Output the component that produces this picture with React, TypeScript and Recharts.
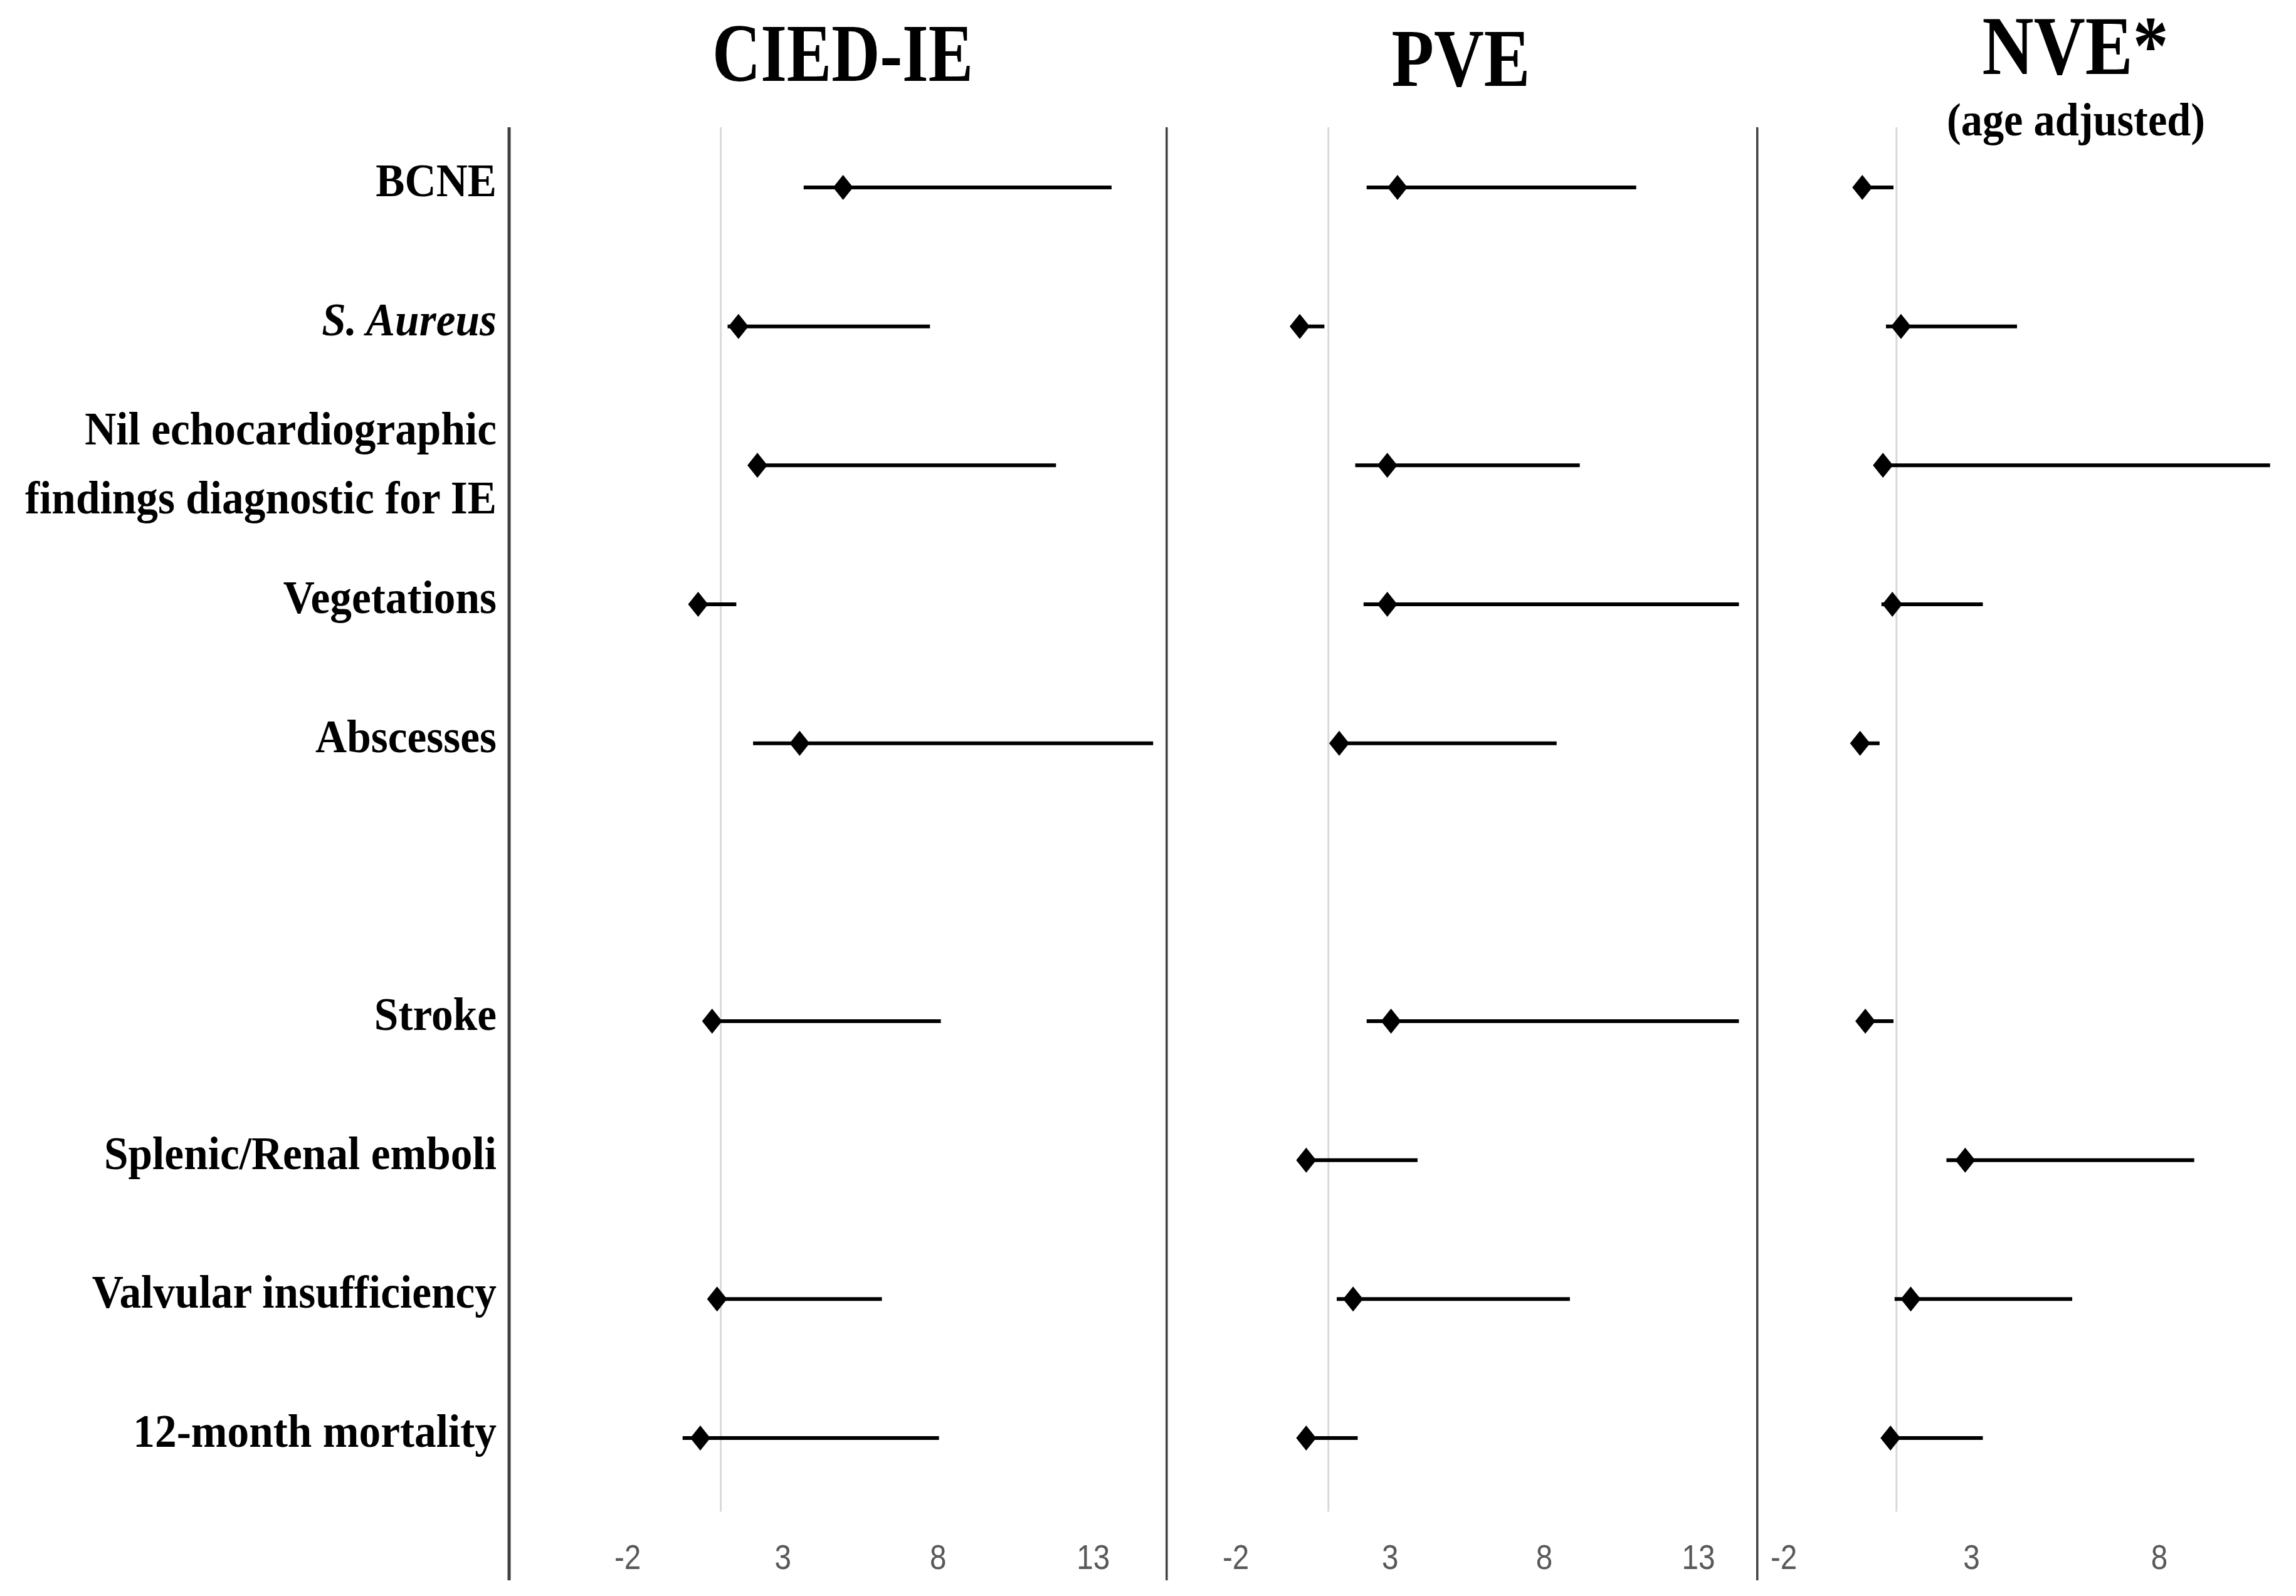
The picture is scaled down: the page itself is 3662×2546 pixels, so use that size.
import React from "react";
import { ScatterChart, Scatter, XAxis, YAxis, ErrorBar, ReferenceLine } from "recharts";

const W = 3662;
const H = 2546;

// rows of the forest plot (index 5 is an empty spacer row)
const categories = [
  "BCNE",
  "S. Aureus",
  "Nil echocardiographic\nfindings diagnostic for IE",
  "Vegetations",
  "Abscesses",
  "",
  "Stroke",
  "Splenic/Renal emboli",
  "Valvular insufficiency",
  "12-month mortality",
];
const labelRows = [0, 1, 2, 3, 4, 6, 7, 8, 9];

// CIED-IE
const ciedPoint = [4.94, 1.57, 2.18, 0.27, 3.54, null, 0.72, null, 0.88, 0.34];
const ciedLow = [3.67, 1.22, 2.0, 0.15, 2.04, null, 0.6, null, 0.69, -0.23];
const ciedHigh = [13.59, 7.74, 11.8, 1.5, 14.93, null, 8.09, null, 6.19, 8.03];

// PVE
const pvePoint = [3.24, 0.07, 2.91, 2.91, 1.35, null, 3.03, 0.28, 1.8, 0.28];
const pveLow = [2.24, -0.05, 1.87, 2.14, 1.08, null, 2.24, 0.15, 1.27, 0.15];
const pveHigh = [10.98, 0.87, 9.15, 14.31, 8.4, null, 14.31, 3.89, 8.83, 1.95];

// NVE (age adjusted)
const nvePoint = [0.09, 1.12, 0.64, 0.89, 0.03, null, 0.17, 2.83, 1.38, 0.84];
const nveLow = [-0.05, 0.72, 0.45, 0.6, -0.1, null, 0.05, 2.33, 0.95, 0.62];
const nveHigh = [0.92, 4.21, 10.95, 3.3, 0.55, null, 0.92, 8.93, 5.68, 3.3];

const wideTicks = [-2, 3, 8, 13];
const nveTicks = [-2, 3, 8];

const SERIF = "'Liberation Serif', 'Times New Roman', serif";
const ROW_DOMAIN = [-0.433, 10.024];

function buildRows(point: (number | null)[], low: (number | null)[], high: (number | null)[]) {
  const out: { row: number; or: number; ci: number[] }[] = [];
  point.forEach((p, i) => {
    if (p == null) return;
    out.push({ row: i, or: p, ci: [p - (low[i] as number), (high[i] as number) - p] });
  });
  return out;
}

const Diamond = (props: any) => {
  const { cx, cy } = props;
  if (cx == null || cy == null) return null;
  return (
    <polygon
      points={`${cx},${cy - 20} ${cx + 16},${cy} ${cx},${cy + 20} ${cx - 16},${cy}`}
      fill="#000"
    />
  );
};

const ValueTick = (props: any) => {
  const { x, y, payload } = props;
  return (
    <g transform={`translate(${x},${y - 18}) scale(0.85,1)`}>
      <text
        x={0}
        y={0}
        textAnchor="middle"
        fontFamily="'Liberation Sans Narrow', 'Liberation Sans', sans-serif"
        fontSize={56}
        fill="#595959"
      >
        {payload.value}
      </text>
    </g>
  );
};

const LabelTick = (props: any) => {
  const { x, y, payload } = props;
  const label = categories[payload.value] || "";
  const lines = label.split("\n");
  return (
    <g transform={`translate(${x},${y}) scale(0.95,1)`}>
      <text
        x={0}
        y={0}
        textAnchor="end"
        fontFamily={SERIF}
        fontWeight="bold"
        fontSize={73}
        fontStyle={payload.value === 1 ? "italic" : "normal"}
        fill="#000"
      >
        {lines.map((l, k) => (
          <tspan key={k} x={0} dy={k === 0 ? (lines.length > 1 ? -33 : 14) : 110}>
            {l}
          </tspan>
        ))}
      </text>
    </g>
  );
};

function Panel(props: {
  left: number;
  width: number;
  data: any[];
  domain: number[];
  ticks: number[];
  showLabels?: boolean;
}) {
  const { left, width, data, domain, ticks, showLabels } = props;
  return (
    <div style={{ position: "absolute", left, top: 0 }}>
      <ScatterChart width={width} height={H} margin={{ top: 203, right: 0, bottom: 0, left: 0 }}>
        <XAxis
          type="number"
          dataKey="or"
          domain={domain}
          ticks={ticks}
          allowDataOverflow
          interval={0}
          height={25}
          axisLine={false}
          tickLine={false}
          tickSize={0}
          tickMargin={0}
          tick={<ValueTick />}
        />
        <YAxis
          type="number"
          dataKey="row"
          domain={ROW_DOMAIN}
          reversed
          allowDataOverflow
          interval={0}
          width={showLabels ? 812 : 1}
          ticks={showLabels ? labelRows : []}
          tick={showLabels ? <LabelTick /> : false}
          tickLine={false}
          tickSize={0}
          tickMargin={20}
          axisLine={{ stroke: "#404040", strokeWidth: 5 }}
        />
        <ReferenceLine
          segment={[
            { x: 1, y: ROW_DOMAIN[0] },
            { x: 1, y: 9.53 },
          ]}
          stroke="#d9d9d9"
          strokeWidth={3}
        />
        <Scatter data={data} shape={<Diamond />} isAnimationActive={false}>
          <ErrorBar
            dataKey="ci"
            direction="x"
            width={0}
            stroke="#000"
            strokeWidth={6}
            isAnimationActive={false}
          />
        </Scatter>
      </ScatterChart>
    </div>
  );
}

export default function App() {
  return (
    <div
      style={{
        position: "absolute",
        left: 0,
        top: 0,
        width: W,
        height: H,
        background: "#fff",
        overflow: "hidden",
      }}
    >
      <Panel
        left={0}
        width={1860}
        data={buildRows(ciedPoint, ciedLow, ciedHigh)}
        domain={[-5.82, 15.35]}
        ticks={wideTicks}
        showLabels
      />
      <Panel
        left={1859}
        width={943}
        data={buildRows(pvePoint, pveLow, pveHigh)}
        domain={[-4.26, 14.89]}
        ticks={wideTicks}
      />
      <Panel
        left={2801}
        width={861}
        data={buildRows(nvePoint, nveLow, nveHigh)}
        domain={[-2.72, 11.64]}
        ticks={nveTicks}
      />
      <svg
        width={W}
        height={H}
        style={{ position: "absolute", left: 0, top: 0, pointerEvents: "none" }}
      >
        <g fontFamily={SERIF} fontWeight="bold" fill="#000" textAnchor="middle">
          <text x={1344} y={129} fontSize={132} textLength={416} lengthAdjust="spacingAndGlyphs">
            CIED-IE
          </text>
          <text x={2330} y={137} fontSize={132} textLength={221} lengthAdjust="spacingAndGlyphs">
            PVE
          </text>
          <text x={3310} y={118} fontSize={134} textLength={297} lengthAdjust="spacingAndGlyphs">
            NVE*
          </text>
          <text x={3311} y={216} fontSize={74} textLength={412} lengthAdjust="spacingAndGlyphs">
            (age adjusted)
          </text>
        </g>
      </svg>
    </div>
  );
}
